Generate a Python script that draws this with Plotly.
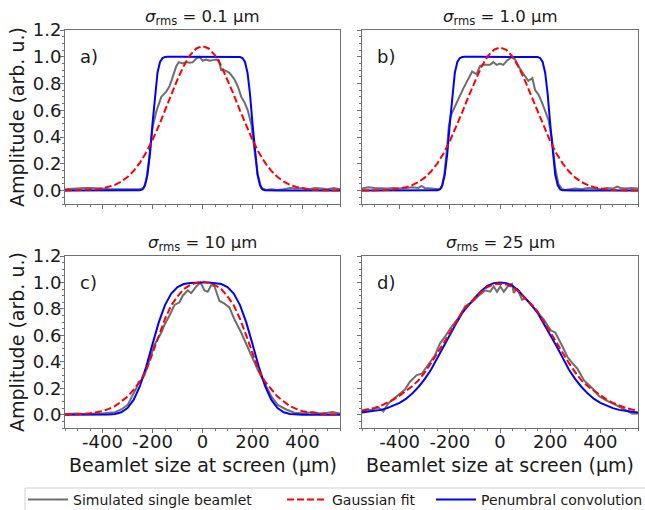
import plotly.graph_objects as go

W, H = 645, 510

# ---------------- data ----------------
X_GRID = [-550, -525, -500, -475, -450, -425, -400, -375, -350, -325, -300, -275,
          -250, -225, -200, -175, -150, -125, -100, -75, -50, -25, 0,
          25, 50, 75, 100, 125, 150, 175, 200, 225, 250, 275, 300, 325, 350,
          375, 400, 425, 450, 475, 500, 525, 550]

X_EDGE = [-550, -300, -250, -240, -230, -220, -210, -200, -190, -180, -170, -160,
          -150, -140, -100, 0, 100, 140, 150, 160, 170, 180, 190, 200, 210, 220,
          230, 240, 250, 300, 550]

BLUE_AB = [0, 0, 0.002, 0.009, 0.039, 0.119, 0.278, 0.5, 0.722, 0.881, 0.961, 0.991,
           0.998, 1.0, 1.0, 1.0, 1.0, 1.0, 0.998, 0.991, 0.961, 0.881, 0.722, 0.5,
           0.278, 0.119, 0.039, 0.009, 0.002, 0, 0]

RED_A = [0.0, 0.001, 0.001, 0.003, 0.005, 0.009, 0.016, 0.027, 0.043, 0.067, 0.102,
         0.148, 0.209, 0.286, 0.378, 0.483, 0.598, 0.717, 0.831, 0.932, 1.011, 1.062,
         1.08,
         1.062, 1.011, 0.932, 0.831, 0.717, 0.598, 0.483, 0.378, 0.286, 0.209, 0.148,
         0.102, 0.067, 0.043, 0.027, 0.016, 0.009, 0.005, 0.003, 0.001, 0.001, 0.0]

RED_B = [0.0, 0.0, 0.001, 0.002, 0.004, 0.008, 0.015, 0.025, 0.041, 0.064, 0.097,
         0.143, 0.202, 0.278, 0.369, 0.473, 0.588, 0.706, 0.820, 0.921, 1.001, 1.052,
         1.07,
         1.052, 1.001, 0.921, 0.820, 0.706, 0.588, 0.473, 0.369, 0.278, 0.202, 0.143,
         0.097, 0.064, 0.041, 0.025, 0.015, 0.008, 0.004, 0.002, 0.001, 0.0, 0.0]

BLUE_C = [0, 0, 0, 0, 0, 0, 0.0, 0.002, 0.006, 0.019, 0.051, 0.114, 0.219, 0.365,
          0.534, 0.698, 0.829, 0.916, 0.965, 0.988, 0.996, 0.999,
          1.0,
          0.999, 0.996, 0.988, 0.965, 0.916, 0.829, 0.698, 0.534, 0.365, 0.219, 0.114,
          0.051, 0.019, 0.006, 0.002, 0.0, 0, 0, 0, 0, 0, 0]

RED_C = [0.001, 0.002, 0.004, 0.007, 0.011, 0.018, 0.027, 0.045, 0.065, 0.10, 0.137,
         0.19, 0.25, 0.335, 0.47, 0.60, 0.725, 0.827, 0.895, 0.95, 0.98, 0.997,
         1.005,
         0.997, 0.98, 0.95, 0.895, 0.827, 0.725, 0.60, 0.47, 0.335, 0.25, 0.19,
         0.137, 0.10, 0.065, 0.045, 0.027, 0.018, 0.011, 0.007, 0.004, 0.002, 0.001]

BLUE_D = [0.017, 0.022, 0.028, 0.037, 0.05, 0.07, 0.09, 0.12, 0.16, 0.21, 0.27,
          0.34, 0.43, 0.52, 0.61, 0.69, 0.77, 0.83, 0.885, 0.935, 0.975, 0.995,
          1.0,
          0.995, 0.975, 0.935, 0.885, 0.83, 0.77, 0.69, 0.61, 0.52, 0.43, 0.34,
          0.27, 0.21, 0.16, 0.12, 0.09, 0.07, 0.05, 0.037, 0.028, 0.022, 0.017]

RED_D = [0.032, 0.04, 0.052, 0.068, 0.09, 0.115, 0.145, 0.18, 0.215, 0.26, 0.32,
         0.39, 0.46, 0.54, 0.62, 0.70, 0.78, 0.835, 0.88, 0.93, 0.965, 0.985,
         0.99,
         0.985, 0.965, 0.93, 0.88, 0.835, 0.78, 0.70, 0.62, 0.54, 0.46, 0.39,
         0.32, 0.26, 0.215, 0.18, 0.145, 0.115, 0.09, 0.068, 0.052, 0.04, 0.032]

GRAY_A_X = [-550, -525, -500, -475, -450, -425, -400, -375, -350, -325,
            -300, -275, -250, -235, -225, -215, -205, -199, -185, -165,
            -145, -132, -119, -105, -95, -79, -65, -52, -39, -25,
            -12, 1, 15, 28, 41, 55, 65, 75, 88, 108,
            128, 141, 155, 168, 181, 195, 208, 221, 235, 255,
            275, 300, 325, 350, 375, 400, 425, 450, 475, 500,
            525, 550]
GRAY_A_Y = [0.01, 0.015, 0.02, 0.02, 0.02, 0.02, 0.015, 0.01, 0.01, 0.015,
            0.01, 0.01, 0.01, 0.02, 0.08, 0.22, 0.38, 0.48, 0.59, 0.70,
            0.74, 0.78, 0.85, 0.93, 0.96, 0.95, 0.96, 0.956, 0.96, 0.986,
            1.0, 0.97, 0.98, 0.97, 0.975, 0.98, 0.975, 0.90, 0.90, 0.88,
            0.83, 0.78, 0.70, 0.66, 0.60, 0.50, 0.30, 0.12, 0.02, 0.005,
            0.01, 0.005, 0.01, 0.02, 0.015, 0.02, 0.01, 0.02, 0.015, 0.01,
            0.02, 0.01]

GRAY_B_X = [-550, -525, -500, -475, -450, -425, -400, -375, -350, -325,
            -313, -300, -275, -250, -240, -233, -222, -212, -204, -196,
            -187, -167, -147, -127, -111, -103, -93, -80, -67, -53,
            -40, -27, -13, 0, 13, 27, 40, 49, 60, 73,
            87, 100, 113, 120, 129, 140, 153, 167, 180, 193,
            207, 220, 233, 247, 260, 275, 300, 325, 350, 375,
            400, 425, 450, 467, 480, 500, 525, 550]
GRAY_B_Y = [0.015, 0.025, 0.02, 0.015, 0.015, 0.02, 0.015, 0.02, 0.025, 0.02,
            0.035, 0.02, 0.015, 0.01, 0.01, 0.02, 0.12, 0.30, 0.48, 0.56,
            0.60, 0.68, 0.76, 0.83, 0.89, 0.88, 0.87, 0.93, 0.94, 0.94,
            0.94, 0.96, 0.94, 0.95, 0.94, 0.97, 0.99, 1.0, 0.98, 0.93,
            0.89, 0.85, 0.82, 0.83, 0.84, 0.75, 0.72, 0.66, 0.60, 0.53,
            0.38, 0.17, 0.05, 0.01, 0.005, 0.01, 0.015, 0.01, 0.02, 0.015,
            0.01, 0.02, 0.015, 0.03, 0.02, 0.015, 0.02, 0.015]

GRAY_C_X = [-550, -525, -500, -475, -450, -425, -400, -375, -350, -325,
            -299, -279, -265, -255, -245, -232, -212, -192, -165, -152,
            -132, -112, -92, -79, -59, -45, -25, -8, 8, 21,
            35, 48, 68, 88, 108, 128, 155, 175, 195, 221,
            248, 275, 301, 335, 368, 408, 440, 470, 500, 520,
            550]
GRAY_C_Y = [0.005, 0.01, 0.01, 0.005, 0.01, 0.01, 0.01, 0.015, 0.02, 0.04,
            0.075, 0.15, 0.20, 0.25, 0.26, 0.30, 0.415, 0.53, 0.62, 0.68,
            0.75, 0.83, 0.85, 0.90, 0.94, 0.92, 0.97, 1.0, 0.94, 0.93,
            0.98, 0.97, 0.86, 0.84, 0.81, 0.72, 0.62, 0.54, 0.45, 0.34,
            0.24, 0.14, 0.075, 0.04, 0.015, 0.01, 0.02, 0.01, 0.015, 0.02,
            0.01]

GRAY_D_X = [-552, -512, -485, -465, -445, -419, -379, -359, -332, -312,
            -285, -259, -239, -219, -199, -179, -159, -139, -112, -85,
            -59, -39, -25, -12, 1, 15, 35, 48, 55, 68,
            88, 101, 141, 175, 201, 221, 248, 268, 288, 308,
            335, 368, 395, 421, 461, 501, 528, 550]
GRAY_D_Y = [0.025, 0.038, 0.055, 0.025, 0.087, 0.125, 0.19, 0.25, 0.30, 0.31,
            0.38, 0.45, 0.54, 0.59, 0.65, 0.70, 0.75, 0.82, 0.85, 0.90,
            0.94, 0.93, 0.97, 0.93, 0.97, 0.93, 0.98, 0.99, 0.92, 0.956,
            0.87, 0.88, 0.79, 0.72, 0.64, 0.62, 0.52, 0.44, 0.39, 0.35,
            0.26, 0.20, 0.14, 0.11, 0.075, 0.038, 0.008, 0.01]

PANEL_TITLES = ["0.1 µm", "1.0 µm", "10 µm", "25 µm"]
PANEL_LETTERS = ["a)", "b)", "c)", "d)"]
SERIES_NAMES = ["Simulated single beamlet", "Gaussian fit", "Penumbral convolution"]
X_TICKS = [-400, -200, 0, 200, 400]
X_TICK_LABELS = ["-400", "-200", "0", "200", "400"]
Y_TICKS = [0.0, 0.2, 0.4, 0.6, 0.8, 1.0, 1.2]
X_RANGE = [-550, 550]
Y_RANGE = [-0.1, 1.2]

GRAY_COLOR = "#6e6e6e"
RED_COLOR = "#ff0000"
BLUE_COLOR = "#0000ff"
AXIS_COLOR = "#707070"
TEXT_COLOR = "#1a1a1a"
FONT = "DejaVu Sans"

panels = [
    (GRAY_A_X, GRAY_A_Y, X_GRID, RED_A, X_EDGE, BLUE_AB),
    (GRAY_B_X, GRAY_B_Y, X_GRID, RED_B, X_EDGE, BLUE_AB),
    (GRAY_C_X, GRAY_C_Y, X_GRID, RED_C, X_GRID, BLUE_C),
    (GRAY_D_X, GRAY_D_Y, X_GRID, RED_D, X_GRID, BLUE_D),
]

# pixel layout of the four axes boxes (left, right, top, bottom)
boxes = [(65, 340, 30, 204), (362, 638, 30, 204),
         (65, 340, 256, 428), (362, 638, 256, 428)]

fig = go.Figure()

for i, (gx, gy, rx, ry, bx, by) in enumerate(panels):
    n = "" if i == 0 else str(i + 1)
    first = i == 0
    fig.add_trace(go.Scatter(x=gx, y=gy, mode="lines", name=SERIES_NAMES[0],
                             line=dict(color=GRAY_COLOR, width=2),
                             xaxis="x" + n, yaxis="y" + n, showlegend=first,
                             legend="legend", hoverinfo="skip"))
    fig.add_trace(go.Scatter(x=bx, y=by, mode="lines", name=SERIES_NAMES[2],
                             line=dict(color=BLUE_COLOR, width=2),
                             xaxis="x" + n, yaxis="y" + n, showlegend=first,
                             legend="legend3", hoverinfo="skip"))
    fig.add_trace(go.Scatter(x=rx, y=ry, mode="lines", name=SERIES_NAMES[1],
                             line=dict(color=RED_COLOR, width=2, dash="7px,3px"),
                             xaxis="x" + n, yaxis="y" + n, showlegend=first,
                             legend="legend2", hoverinfo="skip"))

axis_common = dict(showline=True, linecolor=AXIS_COLOR, linewidth=1, mirror=True,
                   ticks="outside", ticklen=4, tickwidth=1, tickcolor=AXIS_COLOR,
                   showgrid=False, zeroline=False, automargin=False,
                   tickfont=dict(family=FONT, size=18, color=TEXT_COLOR))

layout = dict(width=W, height=H,
              margin=dict(l=0, r=0, t=0, b=0, autoexpand=False),
              paper_bgcolor="white", plot_bgcolor="white",
              font=dict(family=FONT, color=TEXT_COLOR))

annotations = []
for i, (l, r, t, b) in enumerate(boxes):
    n = "" if i == 0 else str(i + 1)
    xa = dict(axis_common)
    xa.update(domain=[l / W, r / W], range=X_RANGE, tickvals=X_TICKS,
              ticktext=X_TICK_LABELS, tickangle=0, ticklabelstandoff=-7,
              anchor="y" + n, showticklabels=(i >= 2),
              minor=dict(dtick=50, tick0=0, ticks="outside", ticklen=2,
                         tickcolor=AXIS_COLOR))
    ya = dict(axis_common)
    ya.update(domain=[(H - b) / H, (H - t) / H], range=Y_RANGE, tickvals=Y_TICKS,
              tickformat=".1f", anchor="x" + n, showticklabels=(i % 2 == 0),
              ticklabelstandoff=-5,
              minor=dict(dtick=0.05, tick0=0, ticks="outside", ticklen=2,
                         tickcolor=AXIS_COLOR))
    layout["xaxis" + n] = xa
    layout["yaxis" + n] = ya

    cx = (l + r) / 2
    annotations.append(dict(text="<i>σ</i><sub>rms</sub> = " + PANEL_TITLES[i],
                            x=cx / W, y=(H - (t - 12)) / H, xref="paper", yref="paper",
                            showarrow=False, xanchor="center", yanchor="middle",
                            font=dict(family=FONT, size=16.5, color=TEXT_COLOR)))
    annotations.append(dict(text=PANEL_LETTERS[i], x=-497, y=1.0,
                            xref="x" + n, yref="y" + n, showarrow=False,
                            xanchor="left", yanchor="middle",
                            font=dict(family=FONT, size=18, color=TEXT_COLOR)))
    if i % 2 == 0:
        annotations.append(dict(text="Amplitude (arb. u.)", textangle=-90,
                                x=17 / W, y=(H - (t + b) / 2) / H,
                                xref="paper", yref="paper", showarrow=False,
                                xanchor="center", yanchor="middle",
                                font=dict(family=FONT, size=19, color=TEXT_COLOR)))
    if i >= 2:
        annotations.append(dict(text="Beamlet size at screen (µm)",
                                x=cx / W, y=(H - 465) / H,
                                xref="paper", yref="paper", showarrow=False,
                                xanchor="center", yanchor="middle",
                                font=dict(family=FONT, size=19, color=TEXT_COLOR)))

layout["annotations"] = annotations

leg_common = dict(orientation="h", yanchor="middle", y=(H - 500) / H,
                  xanchor="left", bgcolor="rgba(0,0,0,0)", borderwidth=0,
                  itemwidth=40,
                  font=dict(family=FONT, size=14, color=TEXT_COLOR))
layout["legend"] = dict(leg_common, x=23 / W)
layout["legend2"] = dict(leg_common, x=282 / W)
layout["legend3"] = dict(leg_common, x=431 / W)

layout["shapes"] = [dict(type="rect", xref="paper", yref="paper",
                         x0=25 / W, x1=660 / W, y0=-10 / H, y1=(H - 488) / H,
                         line=dict(color="#d0d0d0", width=1), fillcolor="rgba(0,0,0,0)",
                         layer="below")]

fig.update_layout(**layout)
fig.write_html("out.html",
               config={"displayModeBar": False},
               post_script="document.body.style.margin='0px';"
                           "document.body.style.overflow='hidden';")
